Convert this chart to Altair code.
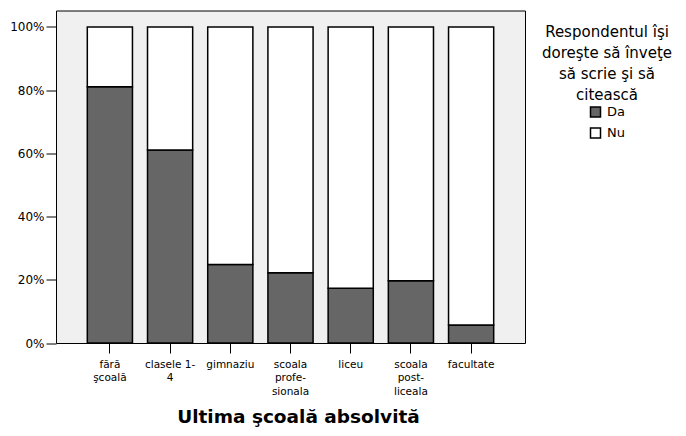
import altair as alt
import pandas as pd

categories = ["fără\nşcoală", "clasele 1-\n4", "gimnaziu", "scoala\nprofe-\nsionala",
              "liceu", "scoala\npost-\nliceala", "facultate"]
da_values = [0.811, 0.611, 0.248, 0.222, 0.173, 0.197, 0.057]
nu_values = [0.189, 0.389, 0.752, 0.778, 0.827, 0.803, 0.943]
series = ["Da", "Nu"]
y_ticks = [0, 0.2, 0.4, 0.6, 0.8, 1.0]
legend_title = ["Respondentul îşi", "doreşte să înveţe", "să scrie şi să", "citească"]
x_title = "Ultima şcoală absolvită"

rows = []
for c, d, n in zip(categories, da_values, nu_values):
    rows.append({"cat": c, "resp": "Da", "val": d, "ord": 0})
    rows.append({"cat": c, "resp": "Nu", "val": n, "ord": 1})
df = pd.DataFrame(rows)

FONT = "DejaVu Sans"

bars = alt.Chart(df).mark_bar(stroke="black", strokeWidth=1.5).encode(
    x=alt.X("cat:N", sort=categories, title=x_title,
            scale=alt.Scale(paddingInner=0.25, paddingOuter=0.52),
            axis=alt.Axis(labelAngle=0, labelExpr="split(datum.label, '\\n')",
                          labelFontSize=10.5, labelLineHeight=13.5, labelPadding=6,
                          tickSize=10, tickColor="black", domain=False,
                          titleFontSize=18.5, titleFontWeight="bold", titlePadding=11,
                          titleX=242, titleAlign="center",
                          labelColor="black", titleColor="black", labelBaseline="top")),
    y=alt.Y("val:Q", stack="zero", title=None,
            scale=alt.Scale(domain=[0, 1.052], nice=False),
            axis=alt.Axis(values=y_ticks, format=".0%", labelFontSize=12,
                          tickSize=10, tickColor="black", domain=False, grid=False,
                          labelPadding=2, labelColor="black")),
    color=alt.Color("resp:N", scale=alt.Scale(domain=series, range=["#666666", "#ffffff"]),
                    legend=alt.Legend(title=None, orient="none", legendX=533, legendY=95,
                                      symbolType="square", symbolSize=100,
                                      symbolStrokeColor="black", symbolStrokeWidth=1.5,
                                      labelFontSize=13, rowPadding=4, padding=0,
                                      labelOffset=5, labelColor="black")),
    order=alt.Order("ord:Q"),
)

title_df = pd.DataFrame({"t": [0]})
ltitle = alt.Chart(title_df).mark_text(
    align="center", baseline="top", fontSize=15, lineHeight=21, font=FONT, color="black"
).encode(x=alt.value(551), y=alt.value(14), text=alt.value(legend_title))

chart = alt.layer(bars, ltitle).properties(
    width=469, height=332.5,
    autosize=alt.AutoSizeParams(type="none"),
    padding={"left": 48, "top": 2.5, "right": 153, "bottom": 84},
).configure_view(
    stroke="black", strokeWidth=1, fill="#f0f0f0"
).configure_axis(
    labelFont=FONT, titleFont=FONT
).configure_legend(
    labelFont=FONT
)

chart.save("out.html", embed_options={"renderer": "svg", "actions": False})
